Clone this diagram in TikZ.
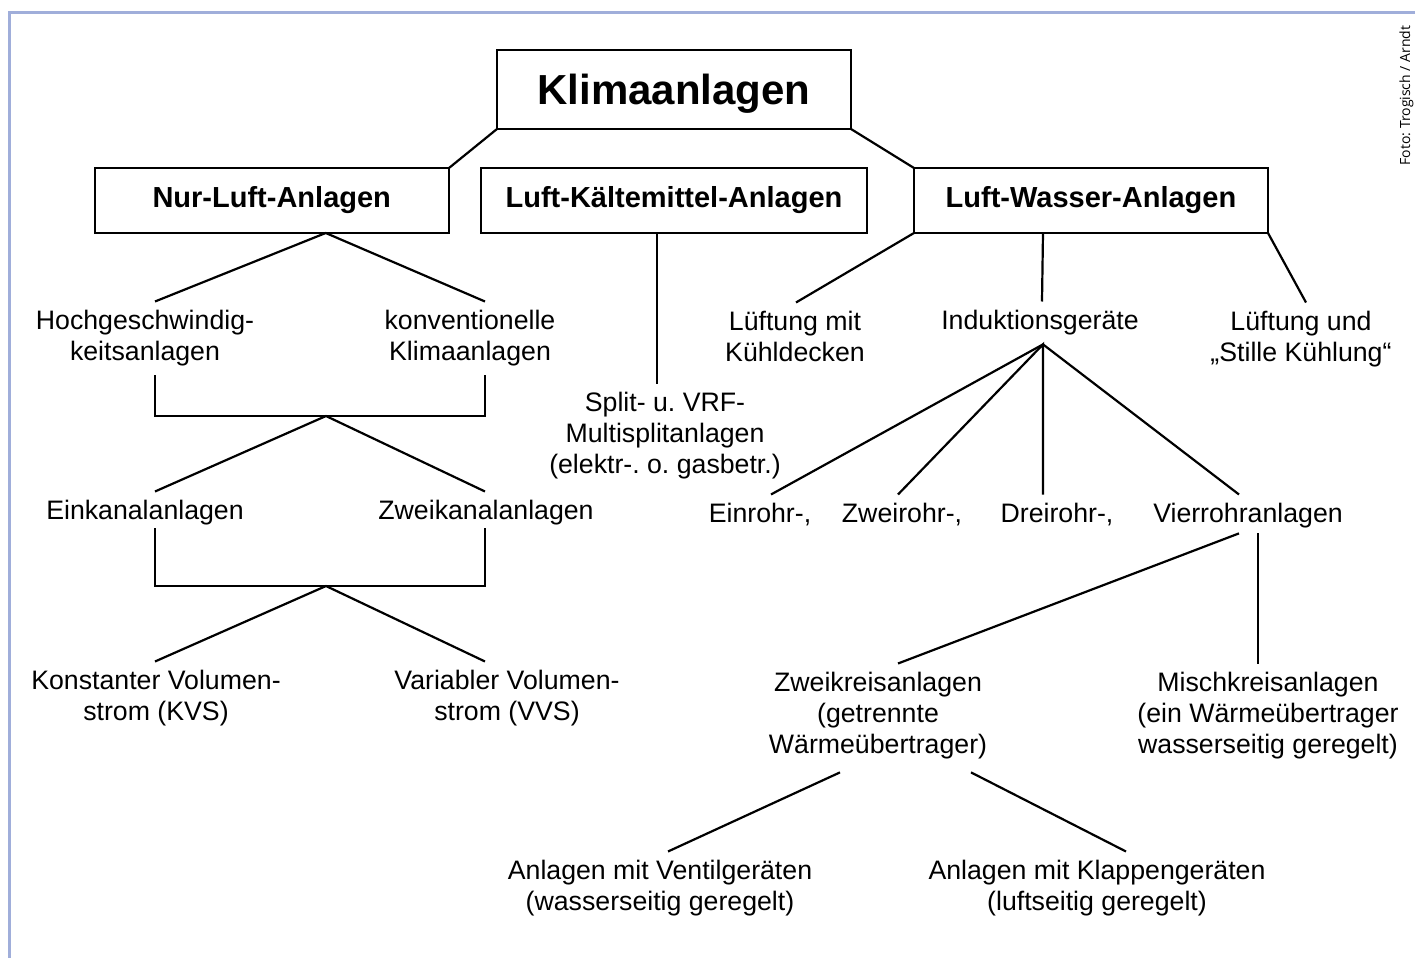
\documentclass[tikz,border=0pt]{standalone}
\usepackage{fontspec}
\setmainfont{Liberation Sans}
\newfontfamily\fotofont{Open Sans}
\usepackage{xcolor}
\usetikzlibrary{calc,
	positioning}
\definecolor{rahmenblau}{RGB}{160,174,218}
\frenchspacing

\begin{document}
\begin{tikzpicture}[
            x=0.5pt, y=-0.5pt,
            kasten/.style={
                    draw,
                    line width=1pt,
                    inner sep=0pt,
                    outer sep=0pt,
                    font=\fontsize{14.5}{17}\selectfont\bfseries
                },
            eintrag/.style={
                    align=center,
                    anchor=north,
                    inner sep=0pt,
                    outer sep=4.5pt,
                    font=\fontsize{13.35}{15.5}\selectfont
                },
            linie/.style={line width=1.1pt}
        ]
            \useasboundingbox (0,0) rectangle (1415,958);
            \draw[rahmenblau, line width=1.5pt] (1415,12) -- (9,12) -- (9,958);
            \node[rotate=90, anchor=base, font=\fotofont\fontsize{7}{8}\selectfont] (foto) at (1410,95.5) {Foto: Trogisch / Arndt};

            \node[kasten, minimum width=177pt, minimum height=39.5pt, text depth=0pt, font=\fontsize{21}{25}\selectfont\bfseries] (klima) at (674,89.5) {Klimaanlagen};
            \node[kasten, minimum width=177.25pt, minimum height=32.5pt] (nurluft) at (271.75,200.5) {Nur-Luft-Anlagen};
            \node[kasten, minimum width=193pt, minimum height=32.5pt] (kaelte) at (674,200.5) {Luft-Kältemittel-Anlagen};
            \node[kasten, minimum width=177pt, minimum height=32.5pt] (wasser) at (1091,200.5) {Luft-Wasser-Anlagen};

            \node[eintrag] (hoch) at (145,301.5) {Hochgeschwindig-\\keitsanlagen};
            \node[eintrag] (konv) at (470,301.5) {konventionelle\\Klimaanlagen};
            \node[eintrag] (einkanal) at (145,491.5) {Einkanalanlagen};
            \node[eintrag] (zweikanal) at (486,491.5) {Zweikanalanlagen};
            \node[eintrag] (kvs) at (156,661.5) {Konstanter Volumen-\\strom (KVS)};
            \node[eintrag] (vvs) at (507,661.5) {Variabler Volumen-\\strom (VVS)};
            \node[eintrag] (split) at (665,383.5) {Split- u. VRF-\\Multisplitanlagen\\(elektr-. o. gasbetr.)};
            \node[eintrag] (kuehl) at (795,302.5) {Lüftung mit\\Kühldecken};
            \node[eintrag] (induktion) at (1040,301.5) {Induktionsgeräte};
            \node[eintrag] (stille) at (1301,302.5) {Lüftung und\\„Stille Kühlung“};
            \node[eintrag] (einrohr) at (760,494.5) {Einrohr-,};
            \node[eintrag] (zweirohr) at (902,494.5) {Zweirohr-,};
            \node[eintrag] (dreirohr) at (1057,494.5) {Dreirohr-,};
            \node[eintrag] (vierrohr) at (1248,494.5) {Vierrohranlagen};
            \node[eintrag] (zweikreis) at (878,663.5) {Zweikreisanlagen\\(getrennte\\Wärmeübertrager)};
            \node[eintrag] (misch) at (1268,663.5) {Mischkreisanlagen\\(ein Wärmeübertrager\\wasserseitig geregelt)};
            \node[eintrag] (ventil) at (660,851.5) {Anlagen mit Ventilgeräten\\(wasserseitig geregelt)};
            \node[eintrag] (klappen) at (1097,851.5) {Anlagen mit Klappengeräten\\(luftseitig geregelt)};

            \coordinate (nlfan) at ($(nurluft.south)+(54,0)$);
            \coordinate (knoten1) at (326,416);
            \coordinate (knoten2) at (326,586);
            \coordinate (indfan) at ($(induktion.south)+(3,0)$);

            \draw[linie] (klima.south west) -- (nurluft.north east);
            \draw[linie] (klima.south east) -- (wasser.north west);
            \draw[linie] ($(hoch.north)+(10,0)$) -- (nlfan) -- ($(konv.north)+(15,0)$);
            \draw[linie] ($(hoch.south)+(10,0)$) |- (knoten1) -| ($(konv.south)+(15,0)$);
            \draw[linie] ($(einkanal.north)+(10,0)$) -- (knoten1) -- ($(zweikanal.north)+(-1,0)$);
            \draw[linie] ($(einkanal.south)+(10,-6)$) |- (knoten2) -| ($(zweikanal.south)+(-1,-6)$);
            \draw[linie] ($(kvs.north)+(-1,0)$) -- (knoten2) -- ($(vvs.north)+(-22,0)$);
            \draw[linie] ($(kaelte.south)+(-17,0)$) -- ($(split.north)+(-8,0)$);
            \draw[linie] (wasser.south west) -- ($(kuehl.north)+(1,0)$);
            \draw[linie] ($(wasser.south)+(-48,0)$) -- ($(induktion.north)+(2,0)$);
            \draw[linie] (wasser.south east) -- ($(stille.north)+(5,0)$);
            \draw[linie] ($(einrohr.north)+(11,0)$) -- (indfan) -- ($(vierrohr.north)+(-9,0)$);
            \draw[linie] ($(zweirohr.north)+(-4,0)$) -- (indfan) -- ($(dreirohr.north)+(-14,0)$);
            \draw[linie] ($(vierrohr.south)+(-9,-4)$) -- ($(zweikreis.north)+(20,0)$);
            \draw[linie] ($(vierrohr.south)+(10,-4)$) -- ($(misch.north)+(-10,0)$);
            \draw[linie] ($(zweikreis.south)+(-38,4)$) -- ($(ventil.north)+(8,0)$);
            \draw[linie] ($(zweikreis.south)+(93,4)$) -- ($(klappen.north)+(29,0)$);
        \end{tikzpicture}
\end{document}
